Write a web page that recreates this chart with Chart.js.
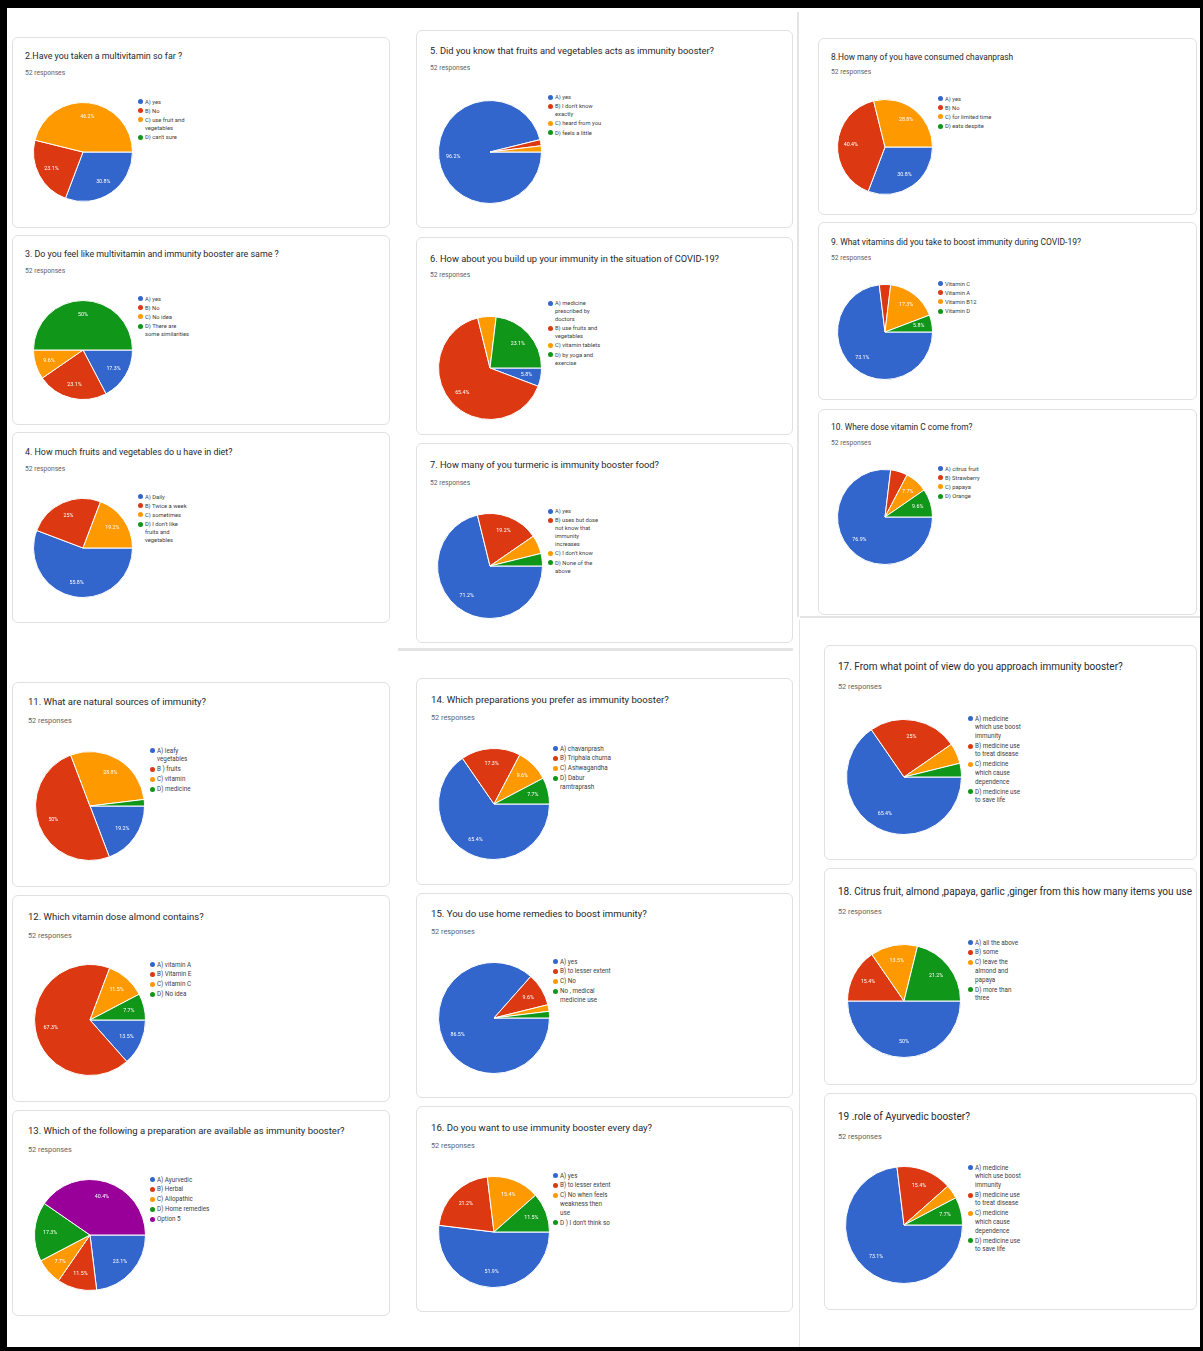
<!DOCTYPE html>
<html>
<head>
<meta charset="utf-8">
<script src="https://cdn.jsdelivr.net/npm/chart.js@4.4.0/dist/chart.umd.min.js"></script>
<style>
html, body { margin: 0; padding: 0; background: #fff; }
body { width: 1203px; height: 1351px; position: relative; overflow: hidden; font-family: Roboto, Arial, sans-serif; }
#frame { position: absolute; left: 0; top: 0; width: 1203px; height: 1351px; box-sizing: border-box;
  border-style: solid; border-color: #000; border-width: 8px 3px 4px 7px; z-index: 5; pointer-events: none; }
.card { position: absolute; background: #fff; border: 1px solid #dfe1e5; border-radius: 6px; box-sizing: border-box; }
.title { position: absolute; white-space: nowrap; color: #26282b; }
.resp { position: absolute; white-space: nowrap; color: #5f6368; }
.legend { position: absolute; color: #3c4043; }
.legend div { position: relative; padding-left: 7px; white-space: pre; }
.legend span { position: absolute; left: 0; width: 5px; height: 5px; border-radius: 50%; }
canvas { position: absolute; }
.seam { position: absolute; background: #e4e4e4; }
</style>
</head>
<body>
<div id="frame"></div>
<script>
// survey data (52 responses each)
const totalResponses = 52;

const questions = [
  '2.Have you taken a multivitamin so far ?',
  '3. Do you feel like multivitamin and immunity booster are same ?',
  '4. How much fruits and vegetables do u have in diet?',
  '5. Did you know that fruits and vegetables acts as immunity booster?',
  '6. How about you build up your immunity in the situation of COVID-19?',
  '7. How many of you turmeric is immunity booster food?',
  '8.How many of you have consumed chavanprash',
  '9. What vitamins did you take to boost immunity during COVID-19?',
  '10. Where dose vitamin C come from?',
  '11. What are natural sources of immunity?',
  '12. Which vitamin dose almond contains?',
  '13. Which of the following a preparation are available as immunity booster?',
  '14. Which preparations you prefer as immunity booster?',
  '15. You do use home remedies to boost immunity?',
  '16. Do you want to use immunity booster every day?',
  '17. From what point of view do you approach immunity booster?',
  '18. Citrus fruit, almond ,papaya, garlic ,ginger from this how many items you use',
  '19 .role of Ayurvedic booster?'
];

const answerLabels = [
  ['A) yes', 'B) No', 'C) use fruit and\nvegetables', "D) can't sure"],
  ['A) yes', 'B) No', 'C) No idea', 'D) There are\nsome similarities'],
  ['A) Daily', 'B) Twice a week', 'C) sometimes', "D) I don't like\nfruits and\nvegetables"],
  ['A) yes', "B) I don't know\nexactly", 'C) heard from you', 'D) feels a little'],
  ['A) medicine\nprescribed by\ndoctors', 'B) use fruits and\nvegetables', 'C) vitamin tablets', 'D) by yoga and\nexercise'],
  ['A) yes', 'B) uses but dose\nnot know that\nimmunity\nincreases', "C) I don't know", 'D) None of the\nabove'],
  ['A) yes', 'B) No', 'C) for limited time', 'D) eats despite'],
  ['Vitamin C', 'Vitamin A', 'Vitamin B12', 'Vitamin D'],
  ['A) citrus fruit', 'B) Strawberry', 'C) papaya', 'D) Orange'],
  ['A) leafy\nvegetables', 'B ) fruits', 'C) vitamin', 'D) medicine'],
  ['A) vitamin A', 'B) Vitamin E', 'C) vitamin C', 'D) No idea'],
  ['A) Ayurvedic', 'B) Herbal', 'C) Allopathic', 'D) Home remedies', 'Option 5'],
  ['A) chavanprash', 'B) Triphala churna', 'C) Ashwagandha', 'D) Dabur\nramtraprash'],
  ['A) yes', 'B) to lesser extent', 'C) No', 'No , medical\nmedicine use'],
  ['A) yes', 'B) to lesser extent', 'C) No when feels\nweakness then\nuse', "D ) I don't think so"],
  ['A) medicine\nwhich use boost\nimmunity', 'B) medicine use\nto treat disease', 'C) medicine\nwhich cause\ndependence', 'D) medicine use\nto save life'],
  ['A) all the above', 'B) some', 'C) leave the\nalmond and\npapaya', 'D) more than\nthree'],
  ['A) medicine\nwhich use boost\nimmunity', 'B) medicine use\nto treat disease', 'C) medicine\nwhich cause\ndependence', 'D) medicine use\nto save life']
];

const answerCounts = [
  [16, 12, 24, 0],
  [9, 12, 5, 26],
  [29, 13, 10, 0],
  [50, 1, 1, 0],
  [3, 34, 3, 12],
  [37, 10, 3, 2],
  [16, 21, 15, 0],
  [38, 2, 9, 3],
  [40, 3, 4, 5],
  [10, 26, 15, 1],
  [7, 35, 6, 4],
  [12, 6, 4, 9, 21],
  [34, 9, 5, 4],
  [45, 5, 1, 1],
  [27, 11, 8, 6],
  [34, 13, 3, 2],
  [26, 8, 7, 11],
  [38, 8, 2, 4]
];

const sliceColors = ['#3366cc', '#dc3912', '#ff9900', '#109618', '#990099'];

// layout: card box [x,y,w,h], title origin, resp top, pie centre + radius, legend origin,
// fs = title size, rs = "responses" size, ls = legend size
const top1 = {rs: 6.7, ls: 5.8};
const low1 = {rs: 7.3, ls: 6.3};
const panels = [
  {card: [12, 37, 378, 191],  title: [25, 50.5],  resp: 68.5, pie: [83, 152, 49],  legend: [138, 97.5],  fs: 8.9, ...top1},
  {card: [12, 235, 378, 190], title: [25, 248.5], resp: 266.5,pie: [83, 350, 49],  legend: [138, 294.5], fs: 8.9, ...top1},
  {card: [12, 432, 378, 191], title: [25, 446.5], resp: 464.5,pie: [83, 548, 49],  legend: [138, 492.5], fs: 8.9, ...top1},
  {card: [416, 30, 377, 198], title: [430, 44.5], resp: 63.5, pie: [490, 152, 51], legend: [548, 93],    fs: 9.3, ...top1},
  {card: [416, 237, 377, 198],title: [430, 252.5],resp: 270.5,pie: [490, 368, 51], legend: [548, 299],   fs: 9.3, ...top1},
  {card: [416, 443, 377, 200],title: [430, 458.5],resp: 478.5,pie: [490, 566, 52], legend: [548, 507],   fs: 9.3, ...top1},
  {card: [818, 38, 379, 177], title: [831, 52],   resp: 67.5, pie: [885, 147, 47], legend: [938, 94.5],  fs: 8.4, ...top1},
  {card: [818, 222, 379, 178],title: [831, 236.5],resp: 253.5,pie: [885, 332, 47], legend: [938, 279.5], fs: 8.5, ...top1},
  {card: [818, 409, 379, 206],title: [831, 421.5],resp: 438.5,pie: [885, 517, 47], legend: [938, 464.5], fs: 8.4, ...top1},
  {card: [12, 682, 378, 205], title: [28, 696],   resp: 716,  pie: [90, 806, 54],  legend: [150, 746.5], fs: 9.5, ...low1},
  {card: [12, 895, 378, 207], title: [28, 911],   resp: 931,  pie: [90, 1020, 55], legend: [150, 960.5], fs: 9.5, ...low1},
  {card: [12, 1110, 378, 206],title: [28, 1125],  resp: 1145, pie: [90, 1235, 55], legend: [150, 1175.5],fs: 9.5, ...low1},
  {card: [416, 678, 377, 207],title: [431, 694],  resp: 713,  pie: [494, 804, 55], legend: [553, 744.5], fs: 9.6, ...low1},
  {card: [416, 893, 377, 205],title: [431, 908],  resp: 927,  pie: [494, 1018, 55],legend: [553, 957.5], fs: 9.6, ...low1},
  {card: [416, 1106, 377, 206],title:[431, 1122], resp: 1141, pie: [494, 1232, 55],legend: [553, 1171.5],fs: 9.6, ...low1},
  {card: [824, 645, 373, 215],title: [838, 661],  resp: 682,  pie: [904, 777, 57], legend: [968, 714.5], fs: 10, ...low1},
  {card: [824, 868, 373, 217],title: [838, 886],  resp: 907,  pie: [904, 1001, 56],legend: [968, 938.5], fs: 10, ...low1},
  {card: [824, 1093, 373, 217],title:[838, 1111], resp: 1132, pie: [904, 1225, 58],legend: [968, 1163.5],fs: 10, ...low1}
];

function fmtPct(v) {
  const r = Math.round(v * 10) / 10;
  return (r % 1 === 0 ? r.toFixed(0) : r.toFixed(1)) + '%';
}

// white percentage text inside the slices, like google forms
const sliceLabels = {
  id: 'sliceLabels',
  afterDatasetsDraw(chart) {
    const ctx = chart.ctx;
    const counts = chart.data.datasets[0].data;
    const meta = chart.getDatasetMeta(0);
    ctx.save();
    ctx.fillStyle = '#fff';
    ctx.font = '5.3px Roboto, Arial, sans-serif';
    ctx.textAlign = 'center';
    ctx.textBaseline = 'middle';
    meta.data.forEach((arc, i) => {
      const pct = counts[i] / totalResponses * 100;
      const mid = (arc.startAngle + arc.endAngle) / 2;
      const flat = Math.abs(Math.sin(mid)) < 0.35;
      if (pct < 5 || (pct < 7 && !flat)) return;
      const r = arc.outerRadius * 0.72;
      ctx.fillText(fmtPct(pct), arc.x + Math.cos(mid) * r, arc.y + Math.sin(mid) * r);
    });
    ctx.restore();
  }
};

function addDiv(cls, css, text) {
  const d = document.createElement('div');
  d.className = cls;
  Object.assign(d.style, css);
  if (text !== undefined) d.textContent = text;
  document.body.appendChild(d);
  return d;
}

// collage seams
addDiv('seam', {left: '398px', top: '648px', width: '395px', height: '3px'});
addDiv('seam', {left: '797px', top: '12px', width: '2px', height: '605px'});
addDiv('seam', {left: '800px', top: '616px', width: '400px', height: '2px'});
addDiv('seam', {left: '799px', top: '620px', width: '1px', height: '728px'});

panels.forEach((p, q) => {
  const [x, y, w, h] = p.card;
  addDiv('card', {left: x + 'px', top: y + 'px', width: w + 'px', height: h + 'px'});
  addDiv('title', {left: p.title[0] + 'px', top: p.title[1] + 'px', fontSize: p.fs + 'px'}, questions[q]);
  addDiv('resp', {left: p.title[0] + 'px', top: p.resp + 'px', fontSize: p.rs + 'px'}, totalResponses + ' responses');

  const lh = p.ls * 1.38;
  const lg = addDiv('legend', {left: p.legend[0] + 'px', top: p.legend[1] + 'px', fontSize: p.ls + 'px', lineHeight: lh + 'px'});
  answerLabels[q].forEach((lab, i) => {
    const item = document.createElement('div');
    item.style.marginBottom = '1.2px';
    const dot = document.createElement('span');
    dot.style.background = sliceColors[i];
    dot.style.top = (lh / 2 - 2.5) + 'px';
    item.appendChild(dot);
    item.appendChild(document.createTextNode(lab));
    lg.appendChild(item);
  });

  const [cx, cy, r] = p.pie;
  const size = 2 * r + 2;
  const cv = document.createElement('canvas');
  cv.width = size;
  cv.height = size;
  cv.style.left = (cx - r - 1) + 'px';
  cv.style.top = (cy - r - 1) + 'px';
  document.body.appendChild(cv);

  new Chart(cv, {
    type: 'pie',
    data: {
      labels: answerLabels[q],
      datasets: [{
        data: answerCounts[q],
        backgroundColor: sliceColors.slice(0, answerCounts[q].length),
        borderColor: '#fff',
        borderWidth: 1
      }]
    },
    options: {
      responsive: false,
      animation: false,
      events: [],
      rotation: 90,
      layout: { padding: 0 },
      plugins: {
        legend: { display: false },
        tooltip: { enabled: false }
      }
    },
    plugins: [sliceLabels]
  });
});
</script>
</body>
</html>
